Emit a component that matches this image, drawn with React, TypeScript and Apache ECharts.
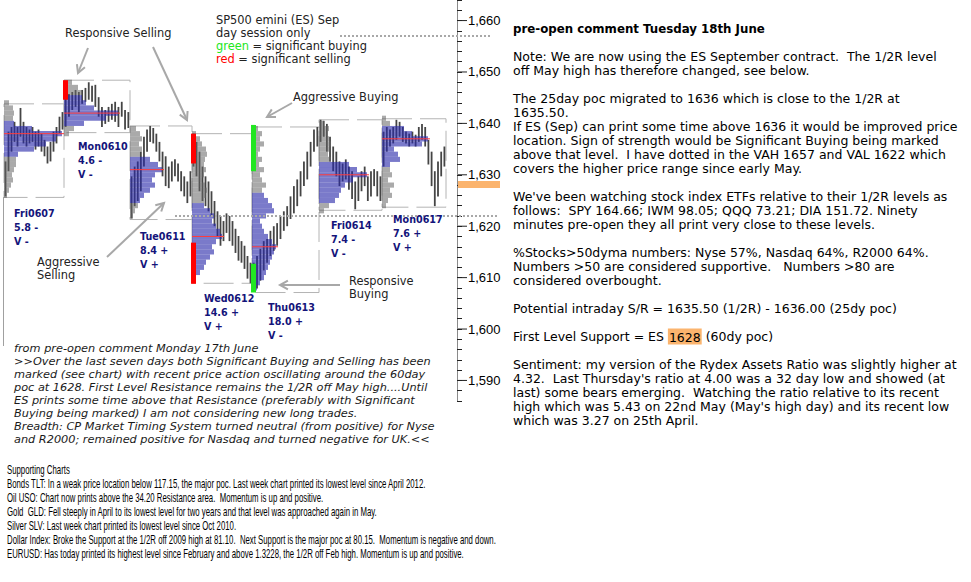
import React, { useEffect, useRef } from "react";
import * as echarts from "echarts";

// ---------- data ----------
const DAY_NAMES = ["Fri0607", "Mon0610", "Tue0611", "Wed0612", "Thu0613", "Fri0614", "Mon0617"];
const DAY_RANGE = ["5.8 -", "4.6 -", "8.4 +", "14.6 +", "18.0 +", "7.4 -", "7.6 +"];
const DAY_VOL = ["V -", "V -", "V +", "V +", "V -", "V -", "V +"];
const SESSION_LEN = [60, 66, 62, 60, 67, 63, 64];
const DAY_HIGH = [1643.8, 1648.4, 1639.5, 1638.0, 1639.3, 1640.7, 1640.9];
const DAY_LOW = [1625.6, 1638.2, 1621.3, 1608.9, 1607.1, 1623.1, 1623.7];

// intraday bars [high, low]
const BARS_FRI0607 = [[1632.6, 1625.8], [1638.4, 1630.7], [1639.3, 1634.5], [1640.3, 1636.4], [1639.3, 1635.5], [1643.0, 1637.4], [1640.3, 1636.1], [1639.3, 1635.5], [1638.8, 1636.1], [1639.3, 1636.4], [1638.4, 1634.9], [1638.8, 1635.5], [1638.0, 1634.5], [1636.8, 1633.6], [1635.5, 1632.2], [1636.4, 1632.6], [1638.4, 1634.5], [1639.3, 1636.1], [1641.3, 1638.0], [1642.2, 1638.8]];
const BARS_MON0610 = [[1645.1, 1639.3], [1645.7, 1641.3], [1646.1, 1642.6], [1646.5, 1643.2], [1646.1, 1642.2], [1646.5, 1643.8], [1646.9, 1644.2], [1648.0, 1644.6], [1647.3, 1644.2], [1647.5, 1643.2], [1645.1, 1641.3], [1643.2, 1639.3], [1642.6, 1639.9], [1643.2, 1640.3], [1643.8, 1640.7], [1644.2, 1640.3], [1643.2, 1639.3], [1644.2, 1641.3], [1642.6, 1638.8], [1642.2, 1639.1]];
const BARS_TUE0611 = [[1629.7, 1621.5], [1631.6, 1623.9], [1632.6, 1624.9], [1634.5, 1626.8], [1637.4, 1631.6], [1638.8, 1634.5], [1639.5, 1636.4], [1639.1, 1636.1], [1638.0, 1634.5], [1636.4, 1632.6], [1634.5, 1629.7], [1633.6, 1627.8], [1631.6, 1627.4], [1632.6, 1628.7], [1633.0, 1629.7], [1632.2, 1628.7], [1630.7, 1626.8], [1629.7, 1625.8], [1628.7, 1624.5], [1630.7, 1625.8]];
const BARS_WED0612 = [[1638.0, 1631.6], [1636.4, 1629.7], [1634.5, 1626.8], [1631.6, 1624.9], [1629.7, 1623.9], [1628.7, 1622.9], [1626.8, 1622.0], [1624.9, 1620.0], [1622.9, 1618.1], [1622.0, 1616.2], [1621.0, 1617.1], [1622.5, 1618.7], [1622.0, 1617.1], [1621.0, 1616.2], [1619.5, 1614.8], [1618.1, 1613.3], [1617.1, 1612.9], [1616.2, 1611.7], [1614.2, 1609.8], [1612.9, 1608.9]];
const BARS_THU0613 = [[1612.9, 1607.3], [1614.2, 1607.9], [1615.6, 1609.4], [1617.1, 1611.4], [1617.5, 1612.9], [1619.1, 1614.2], [1620.0, 1615.2], [1620.6, 1616.2], [1622.0, 1617.5], [1622.9, 1619.1], [1623.9, 1620.0], [1625.8, 1621.4], [1627.8, 1622.5], [1629.1, 1623.9], [1630.7, 1625.8], [1632.6, 1627.8], [1634.5, 1629.1], [1636.4, 1631.6], [1638.8, 1634.5], [1639.3, 1635.5]];
const BARS_FRI0614 = [[1640.7, 1636.4], [1640.5, 1637.4], [1639.9, 1634.5], [1637.4, 1632.6], [1635.5, 1630.7], [1634.5, 1629.7], [1632.6, 1627.8], [1632.2, 1628.7], [1633.0, 1629.1], [1631.6, 1627.1], [1630.7, 1625.3], [1628.7, 1623.3], [1629.7, 1624.9], [1630.7, 1626.8], [1631.6, 1627.8], [1629.7, 1624.9], [1630.7, 1625.8], [1631.1, 1627.8], [1630.7, 1625.8], [1629.7, 1624.9]];
const BARS_MON0617 = [[1638.4, 1631.6], [1639.3, 1634.5], [1638.8, 1635.5], [1639.3, 1636.1], [1640.7, 1636.8], [1640.3, 1637.4], [1639.3, 1636.4], [1638.4, 1636.1], [1638.0, 1635.5], [1638.4, 1636.1], [1637.8, 1635.5], [1639.3, 1636.4], [1639.9, 1636.8], [1639.3, 1635.5], [1636.8, 1632.0], [1634.5, 1627.8], [1630.7, 1623.9], [1632.6, 1625.8], [1634.5, 1629.7], [1635.5, 1631.6]];
const DAY_BARS = [BARS_FRI0607, BARS_MON0610, BARS_TUE0611, BARS_WED0612, BARS_THU0613, BARS_FRI0614, BARS_MON0617];

// market profiles: length per 1-point price level, from PROFILE_TOP downward
const PROFILE_TOP = [1644, 1648, 1639, 1638, 1639, 1640, 1641];
const PROFILE_FRI0607 = [5, 9, 10, 9, 10, 28, 58, 52, 42, 30, 14, 12, 12, 10, 8, 9, 7, 5, 3];
const PROFILE_MON0610 = [8, 14, 18, 18, 22, 30, 54, 42, 20, 10, 5];
const PROFILE_TUE0611 = [6, 10, 12, 9, 12, 10, 20, 28, 32, 25, 22, 25, 20, 14, 10, 8, 5, 3];
const PROFILE_WED0612 = [4, 8, 10, 14, 15, 13, 12, 14, 12, 10, 13, 15, 14, 12, 12, 18, 22, 20, 24, 28, 30, 24, 20, 22, 18, 14, 12, 8, 4];
const PROFILE_THU0613 = [6, 10, 8, 12, 8, 6, 10, 7, 12, 8, 10, 14, 10, 12, 16, 20, 22, 14, 8, 10, 12, 16, 20, 24, 22, 20, 18, 16, 14, 12, 8, 5];
const PROFILE_FRI0614 = [5, 10, 8, 10, 12, 10, 9, 12, 30, 38, 48, 34, 26, 22, 20, 16, 10, 5];
const PROFILE_MON0617 = [4, 8, 22, 30, 46, 40, 12, 16, 18, 8, 8, 10, 6, 12, 8, 10, 6, 4];
const DAY_PROFILES = [PROFILE_FRI0607, PROFILE_MON0610, PROFILE_TUE0611, PROFILE_WED0612, PROFILE_THU0613, PROFILE_FRI0614, PROFILE_MON0617];
const VA_HIGH = [1640, 1645, 1633, 1624, 1626, 1632, 1639];
const VA_LOW = [1634, 1640, 1625, 1611, 1608, 1625, 1632];
const POC = [1638, 1642, 1631, 1618, 1616, 1630, 1637];

// significant activity: [day, from, to, 1 = buying / 0 = selling]
const SIGNALS = [[1, 1644.6, 1648.4, 0], [3, 1632.2, 1638.0, 0], [3, 1608.8, 1616.8, 0], [4, 1630.7, 1639.7, 1], [4, 1607.1, 1612.7, 1]];

const VAH = 1657;
const VAL = 1622;
const SUPPORT_60DAY = 1628;
const Y_MIN = 1586;
const Y_MAX = 1664;
const Y_STEP = 2;

const NOTE_LINES = [
  "from pre-open comment Monday 17th June",
  ">>Over the last seven days both Significant Buying and Selling has been",
  "marked (see chart) with recent price action oscillating around the 60day",
  "poc at 1628. First Level Resistance remains the 1/2R off May high....Until",
  "ES prints some time above that Resistance (preferably with Significant",
  "Buying being marked) I am not considering new long trades.",
  "Breadth: CP Market Timing System turned neutral (from positive) for Nyse",
  "and R2000; remained positive for Nasdaq and turned negative for UK.<<",
];

const SUPPORT_LINES = [
  "Supporting Charts",
  "Bonds TLT: In a weak price location below 117.15, the major poc. Last week chart printed its lowest level since April 2012.",
  "Oil USO: Chart now prints above the 34.20 Resistance area.  Momentum is up and positive.",
  "Gold  GLD: Fell steeply in April to its lowest level for two years and that level was approached again in May.",
  "Silver SLV: Last week chart printed its lowest level since Oct 2010.",
  "Dollar Index: Broke the Support at the 1/2R off 2009 high at 81.10.  Next Support is the major poc at 80.15.  Momentum is negative and down.",
  "EURUSD: Has today printed its highest level since February and above 1.3228, the 1/2R off Feb high. Momentum is up and positive.",
];

const COMMENT_TITLE = "pre-open comment Tuesday 18th June";
const COMMENT_LINES = [
  "",
  "",
  "Note: We are now using the ES September contract.  The 1/2R level",
  "off May high has therefore changed, see below.",
  "",
  "The 25day poc migrated to 1636 which is close to the 1/2R at",
  "1635.50.",
  "If ES (Sep) can print some time above 1636 it would be improved price",
  "location. Sign of strength would be Significant Buying being marked",
  "above that level.  I have dotted in the VAH 1657 and VAL 1622 which",
  "covers the higher price range since early May.",
  "",
  "We've been watching stock index ETFs relative to their 1/2R levels as",
  "follows:  SPY 164.66; IWM 98.05; QQQ 73.21; DIA 151.72. Ninety",
  "minutes pre-open they all print very close to these levels.",
  "",
  "%Stocks>50dyma numbers: Nyse 57%, Nasdaq 64%, R2000 64%.",
  "Numbers >50 are considered supportive.   Numbers >80 are",
  "considered overbought.",
  "",
  "Potential intraday S/R = 1635.50 (1/2R) - 1636.00 (25dy poc)",
  "",
  "First Level Support = ES {h|1628} (60dy poc)",
  "",
  "Sentiment: my version of the Rydex Assets Ratio was slightly higher at",
  "4.32.  Last Thursday's ratio at 4.00 was a 32 day low and showed (at",
  "last) some bears emerging.  Watching the ratio relative to its recent",
  "high which was 5.43 on 22nd May (May's high day) and its recent low",
  "which was 3.27 on 25th April.",
];

const LEGEND_LINES = ["SP500 emini (ES) Sep", "day session only", "{g|green} = significant buying", "{r|red} = significant selling"];

// ---------- layout ----------
const DAY_LABEL_POS = [[14, 213], [78, 146], [140, 236], [204, 298], [268, 307], [331, 225], [393, 219]];
const ANNOTATIONS = [
  { lines: ["Responsive Selling"], x: 65, y: 33 },
  { lines: ["Aggressive Buying"], x: 293, y: 97 },
  { lines: ["Aggressive", "Selling"], x: 37, y: 262 },
  { lines: ["Responsive", "Buying"], x: 349, y: 281 },
];
const ARROWS = [
  [88, 48, 78, 73],
  [153, 47, 187, 120],
  [292, 103, 267, 117],
  [107, 257, 164, 203],
  [340, 285, 280, 285],
];

export default function App() {
  const ref = useRef<HTMLDivElement>(null);

  useEffect(() => {
    const chart = echarts.init(ref.current!, null, { renderer: "svg" });

    const starts: number[] = [];
    let acc = 0;
    SESSION_LEN.forEach((l) => {
      starts.push(acc);
      acc += l;
    });

    const barData: number[][] = [];
    DAY_BARS.forEach((bars, d) => {
      bars.forEach((b, i) => {
        barData.push([starts[d] + ((i + 0.5) * SESSION_LEN[d]) / bars.length, b[0], b[1]]);
      });
    });

    const profileData: number[][] = [];
    DAY_PROFILES.forEach((prof, d) => {
      prof.forEach((w, i) => {
        const p = PROFILE_TOP[d] - i;
        const va = p <= VA_HIGH[d] && p >= VA_LOW[d] ? 1 : 0;
        profileData.push([starts[d], p, w, va]);
      });
    });

    const pocData = POC.map((p, d) => {
      const w = DAY_PROFILES[d][PROFILE_TOP[d] - p];
      return [starts[d], p, w];
    });

    const boxData = DAY_HIGH.map((h, d) => [starts[d], h, SESSION_LEN[d], DAY_LOW[d]]);
    const signalData = SIGNALS.map((s) => [starts[s[0]], s[2], s[1], s[3]]);

    const fmt = (v: number) => {
      const s = String(Math.round(v));
      return s.slice(0, s.length - 3) + "," + s.slice(s.length - 3);
    };

    const option: any = {
      animation: false,
      backgroundColor: "#ffffff",
      grid: { left: 0, top: -3, width: 457, height: 404, containLabel: false },
      xAxis: { type: "value", min: -4, max: 453, show: false },
      yAxis: {
        type: "value",
        position: "right",
        min: Y_MIN,
        max: Y_MAX,
        interval: Y_STEP,
        axisLine: { show: true, onZero: false, lineStyle: { color: "#8a8a8a", width: 1 } },
        axisTick: { show: true, inside: false, length: 5, lineStyle: { color: "#222", width: 1 } },
        splitLine: { show: false },
        axisLabel: {
          margin: 1,
          formatter: (v: number) => (Math.round(v) % 10 === 0 ? "{t| }{v|" + fmt(v) + "}" : ""),
          rich: {
            t: { width: 9, height: 1, backgroundColor: "#222", verticalAlign: "middle" },
            v: { fontFamily: "Liberation Sans", fontSize: 13, color: "#000", padding: [0, 0, 0, 1] },
          },
        },
      },
      series: [
        {
          type: "custom",
          name: "boxes",
          z: 1,
          silent: true,
          data: boxData,
          renderItem: (params: any, api: any) => {
            const a = api.coord([api.value(0), api.value(1)]);
            const b = api.coord([api.value(0) + api.value(2), api.value(3)]);
            return {
              type: "rect",
              shape: { x: a[0], y: a[1], width: b[0] - a[0], height: b[1] - a[1] },
              style: { fill: "none", stroke: "#b4b4b4", lineWidth: 1, lineDash: [30, 8] },
            };
          },
        },
        {
          type: "custom",
          name: "bars",
          z: 2,
          silent: true,
          data: barData,
          renderItem: (params: any, api: any) => {
            const x = api.value(0);
            const a = api.coord([x, api.value(1)]);
            const b = api.coord([x, api.value(2)]);
            return {
              type: "line",
              shape: { x1: a[0], y1: a[1], x2: b[0], y2: b[1] },
              style: { stroke: "#454545", lineWidth: 1.8 },
            };
          },
        },
        {
          type: "custom",
          name: "profiles",
          z: 3,
          silent: true,
          data: profileData,
          renderItem: (params: any, api: any) => {
            const x0 = api.value(0);
            const p = api.value(1);
            const a = api.coord([x0, p + 0.5]);
            const b = api.coord([x0 + api.value(2), p - 0.5]);
            return {
              type: "rect",
              shape: { x: a[0], y: a[1], width: b[0] - a[0], height: b[1] - a[1] },
              style: { fill: api.value(3) ? "rgba(40,40,170,0.62)" : "rgba(100,100,100,0.55)" },
            };
          },
        },
        {
          type: "custom",
          name: "poc",
          z: 4,
          silent: true,
          data: pocData,
          renderItem: (params: any, api: any) => {
            const a = api.coord([api.value(0), api.value(1)]);
            const b = api.coord([api.value(0) + api.value(2) + 2, api.value(1)]);
            return {
              type: "line",
              shape: { x1: a[0], y1: a[1], x2: b[0], y2: b[1] },
              style: { stroke: "#ff3c3c", lineWidth: 1 },
            };
          },
        },
        {
          type: "custom",
          name: "signals",
          z: 5,
          silent: true,
          data: signalData,
          renderItem: (params: any, api: any) => {
            const a = api.coord([api.value(0), api.value(1)]);
            const b = api.coord([api.value(0), api.value(2)]);
            return {
              type: "rect",
              shape: { x: a[0] - 1, y: a[1], width: 5, height: b[1] - a[1] },
              style: { fill: api.value(3) ? "#22e622" : "#ff0000" },
            };
          },
        },
      ],
    };

    chart.setOption(option);

    const yOf = (p: number) => (chart.convertToPixel({ gridIndex: 0 } as any, [0, p]) as number[])[1];

    const els: any[] = [];
    const Z = 100;
    const annFont = '11.4px "DejaVu Sans"';

    // dotted value-area lines
    const yVah = yOf(VAH);
    const yVal = yOf(VAL);
    els.push({ type: "line", z: Z - 5, shape: { x1: 340, y1: yVah, x2: 490, y2: yVah }, style: { stroke: "#a8a8a8", lineWidth: 2, lineDash: [2, 2] } });
    els.push({ type: "line", z: Z - 5, shape: { x1: 175, y1: yVal, x2: 498, y2: yVal }, style: { stroke: "#a8a8a8", lineWidth: 2, lineDash: [2, 2] } });
    // 60 day poc highlight on axis
    const ySup = yOf(SUPPORT_60DAY);
    els.push({ type: "rect", z: Z - 6, shape: { x: 458, y: ySup - 4, width: 42, height: 7 }, style: { fill: "#fbb46e" } });
    // left border remnant
    els.push({ type: "line", z: Z - 5, shape: { x1: 3.5, y1: 197, x2: 3.5, y2: 346 }, style: { stroke: "#a0a0a0", lineWidth: 1 } });

    // arrows
    ARROWS.forEach(([x1, y1, x2, y2]) => {
      const ang = Math.atan2(y2 - y1, x2 - x1);
      const L = 9;
      const h = 0.5;
      const p1 = [x2 - L * Math.cos(ang - h), y2 - L * Math.sin(ang - h)];
      const p2 = [x2 - L * Math.cos(ang + h), y2 - L * Math.sin(ang + h)];
      els.push({ type: "line", z: Z, shape: { x1, y1, x2, y2 }, style: { stroke: "#a8a8a8", lineWidth: 2 } });
      els.push({ type: "polyline", z: Z, shape: { points: [p1, [x2, y2], p2] }, style: { stroke: "#a8a8a8", lineWidth: 2, fill: null } });
    });

    // annotations
    ANNOTATIONS.forEach((a) => {
      a.lines.forEach((t, i) => {
        els.push({ type: "text", z: Z, x: a.x, y: a.y + i * 13, style: { text: t, font: annFont, fill: "#222", verticalAlign: "middle" } });
      });
    });

    // legend text
    LEGEND_LINES.forEach((t, i) => {
      els.push({
        type: "text",
        z: Z,
        x: 216,
        y: 20 + i * 13,
        style: {
          text: t,
          font: annFont,
          fill: "#222",
          verticalAlign: "middle",
          rich: {
            g: { fill: "#22e622", font: annFont },
            r: { fill: "#ff0000", font: annFont },
          },
        },
      });
    });

    // day labels
    DAY_NAMES.forEach((n, d) => {
      const [x, y] = DAY_LABEL_POS[d];
      [n, DAY_RANGE[d], DAY_VOL[d]].forEach((t, i) => {
        els.push({ type: "text", z: Z, x, y: y + i * 14.3, style: { text: t, font: 'bold 9.6px "DejaVu Sans"', fill: "#14147a", verticalAlign: "middle" } });
      });
    });

    // italic note under the chart
    NOTE_LINES.forEach((t, i) => {
      els.push({ type: "text", z: Z, x: 14, y: 348 + i * 13, style: { text: t, font: 'italic 11.3px "DejaVu Sans"', fill: "#1a1a1a", verticalAlign: "middle" } });
    });

    // supporting charts block (condensed)
    els.push({
      type: "group",
      x: 7,
      y: 0,
      scaleX: 0.65,
      z: Z,
      children: SUPPORT_LINES.map((t, i) => ({
        type: "text",
        z: Z,
        x: 0,
        y: 470 + i * 13.9,
        style: { text: t, font: '12px "Liberation Sans"', fill: "#000", verticalAlign: "middle" },
      })),
    });

    // right-hand comment
    const cFont = '12.5px "DejaVu Sans"';
    els.push({ type: "text", z: Z, x: 513, y: 28.5, style: { text: COMMENT_TITLE, font: 'bold 11.8px "DejaVu Sans"', fill: "#000", verticalAlign: "middle" } });
    COMMENT_LINES.forEach((t, i) => {
      if (!t) return;
      els.push({
        type: "text",
        z: Z,
        x: 513,
        y: 28.5 + i * 14,
        style: {
          text: t,
          font: cFont,
          fill: "#000",
          verticalAlign: "middle",
          rich: { h: { font: cFont, fill: "#000", backgroundColor: "#fbb46e", padding: [2, 1, 1, 1] } },
        },
      });
    });

    chart.setOption({ graphic: { elements: els } });

    return () => chart.dispose();
  }, []);

  return (
    <div
      ref={ref}
      style={{ position: "fixed", left: 0, top: 0, width: 971, height: 582, background: "#ffffff" }}
    />
  );
}
